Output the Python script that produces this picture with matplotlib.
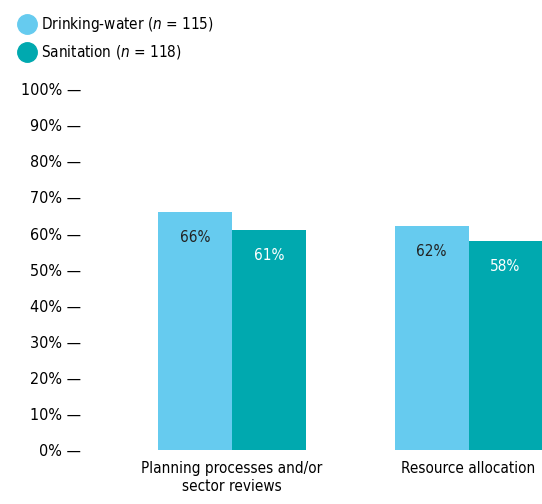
import matplotlib.pyplot as plt
import numpy as np
from matplotlib.lines import Line2D

# condensed DejaVu is closest to the narrow face in the reference
plt.rcParams['font.family'] = ['DejaVu Sans']
plt.rcParams['font.stretch'] = 'condensed'

categories = ['Planning processes and/or\nsector reviews', 'Resource allocation']
water = [66, 62]
sanitation = [61, 58]
series_names = ['Drinking-water ($n$ = 115)', 'Sanitation ($n$ = 118)']
yticks = [0, 10, 20, 30, 40, 50, 60, 70, 80, 90, 100]

c_water = '#66cbef'
c_san = '#00a9af'

fig = plt.figure(figsize=(5.42, 5.04), dpi=100)
ax = fig.add_axes([0.157, 0.107, 0.843, 0.716])

x = np.arange(len(categories))
w = 0.312
b1 = ax.bar(x - w / 2, water, w, color=c_water)
b2 = ax.bar(x + w / 2, sanitation, w, color=c_san)

for r, v in zip(b1, water):
    ax.text(r.get_x() + r.get_width() / 2, v - 7, f'{v}%', ha='center', va='center',
            fontsize=11, color='#222222')
for r, v in zip(b2, sanitation):
    ax.text(r.get_x() + r.get_width() / 2, v - 7, f'{v}%', ha='center', va='center',
            fontsize=11, color='white')

ax.set_xlim(-0.62, 1.31)
ax.set_ylim(0, 100)
ax.set_yticks(yticks)
ax.set_yticklabels([f'{t}% \u2014' for t in yticks], fontsize=11.5)
ax.set_xticks(x)
ax.set_xticklabels(categories, fontsize=11)
ax.tick_params(axis='both', length=0)
ax.tick_params(axis='x', pad=8)
ax.tick_params(axis='y', pad=3)
for s in ax.spines.values():
    s.set_visible(False)

handles = [Line2D([], [], marker='o', linestyle='', markersize=14, color=c_water),
           Line2D([], [], marker='o', linestyle='', markersize=14, color=c_san)]
fig.legend(handles, series_names, loc='upper left', bbox_to_anchor=(0.008, 0.997),
           frameon=False, fontsize=11, handletextpad=0.3, labelspacing=0.6,
           handlelength=1.2)

fig.savefig('out.png', dpi=100)
